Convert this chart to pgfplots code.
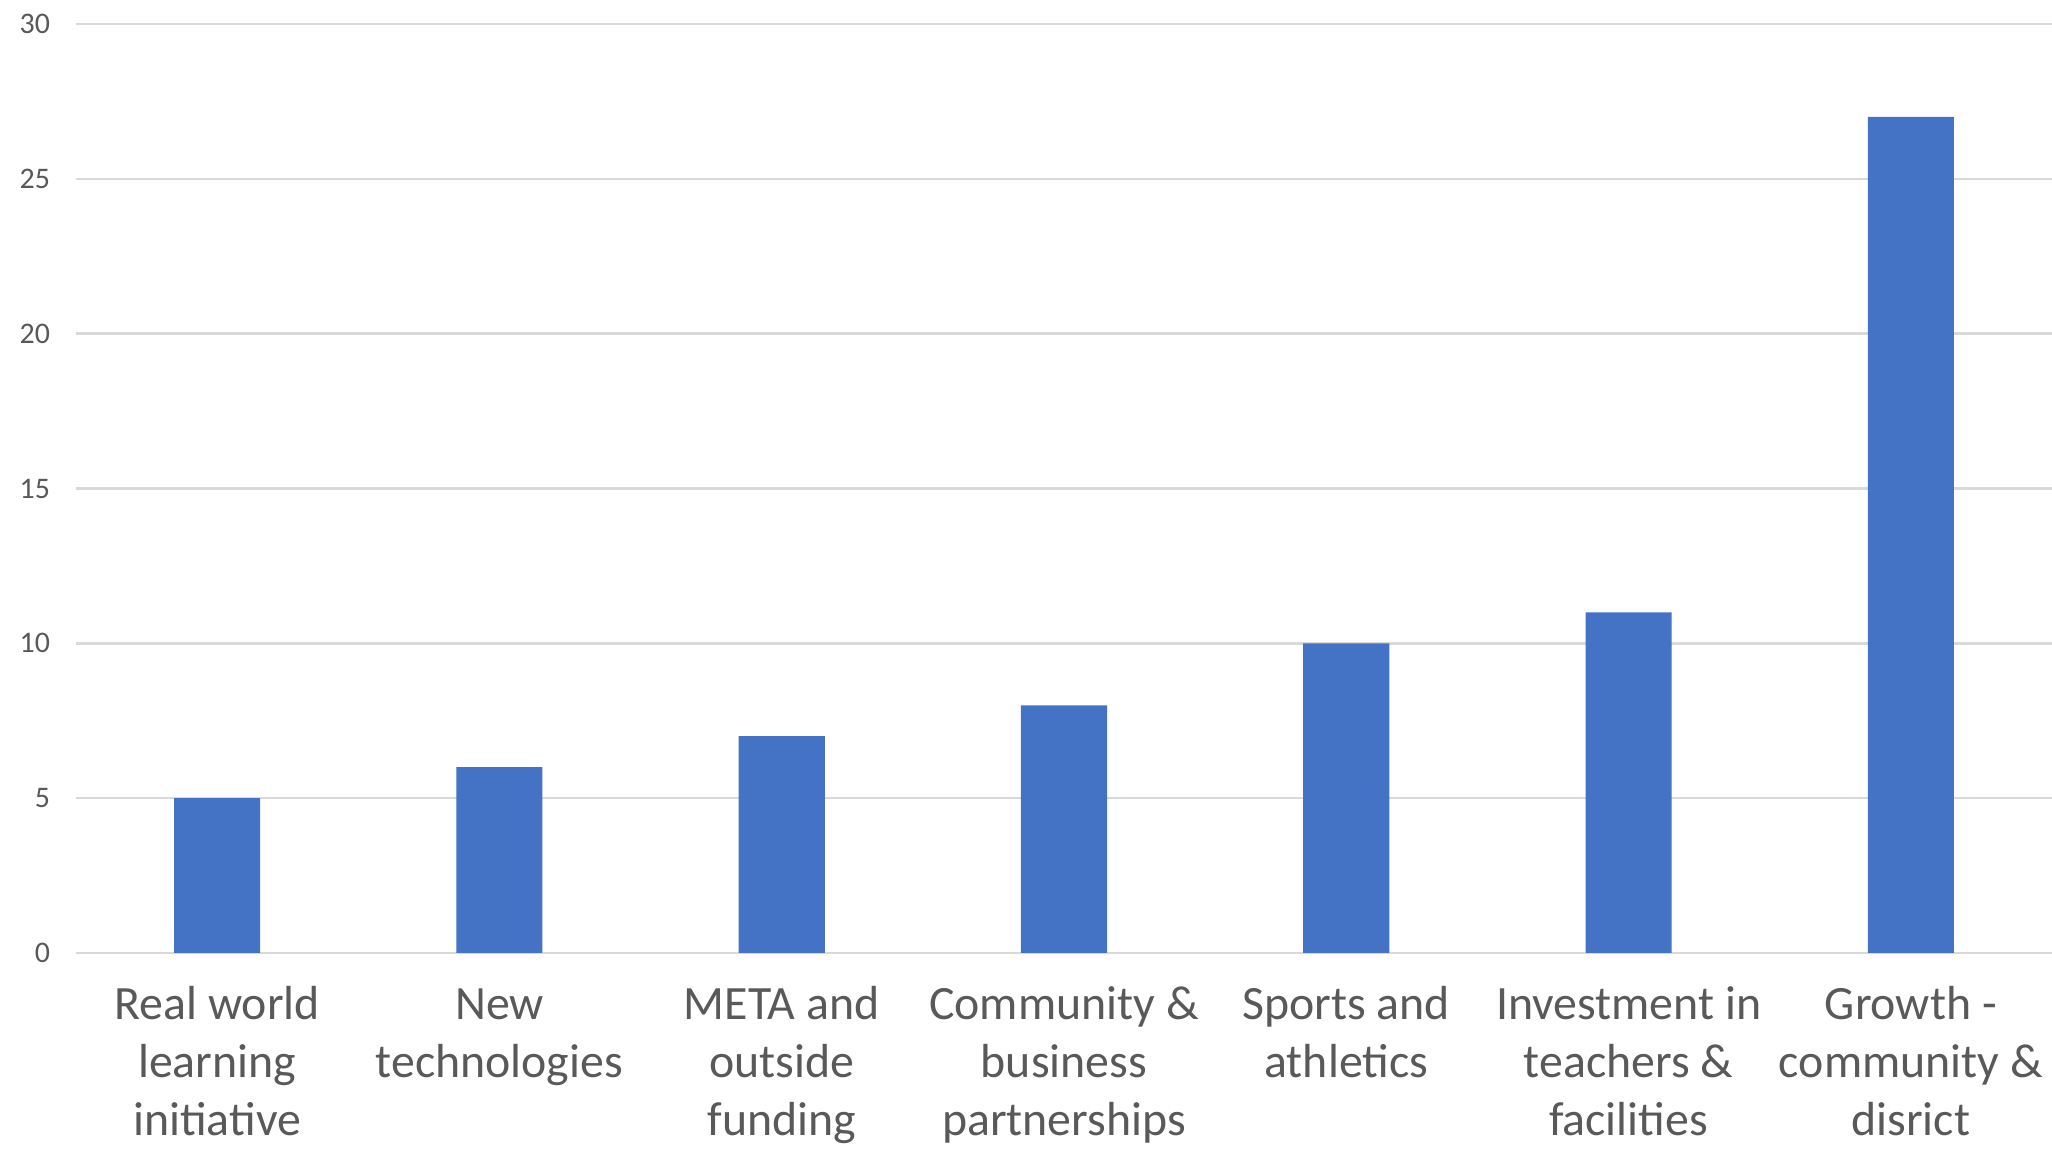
\documentclass[border=0pt]{standalone}
\usepackage{pgfplots}
\pgfplotsset{compat=1.18}
\usepackage{fontspec}
\setmainfont{Carlito}
\definecolor{barblue}{HTML}{4472C4}
\definecolor{gridgray}{HTML}{D9D9D9}
\definecolor{txtgray}{HTML}{595959}

\begin{document}
\begin{tikzpicture}
  \begin{axis}[
      scale only axis,
      width=494bp, height=232.25bp,
      ymin=0, ymax=30,
      xmin=-0.5, xmax=6.5,
      ytick={0,5,...,30},
      xtick=data,
      xticklabels={
        {\strut Real world\\learning\\initiative},
        {\strut New\\technologies},
        {\strut META and\\outside\\funding},
        {\strut Community \&\\business\\partnerships},
        {\strut Sports and\\athletics},
        {\strut Investment in\\teachers \&\\facilities},
        {\strut Growth -\\community \&\\disrict}},
      axis x line=bottom,
      axis y line=left,
      y axis line style={draw=none},
      x axis line style={gridgray, line width=0.6bp, -},
      ymajorgrids=true,
      grid style={gridgray, line width=0.6bp},
      major tick length=0pt,
      /pgf/number format/assume math mode=true,
      xticklabel style={align=center, text=txtgray,
        font=\fontsize{12}{14.5}\selectfont, yshift=-3bp},
      yticklabel style={text=txtgray, font=\fontsize{7.5}{9}\selectfont,
        anchor=east, xshift=-3bp},
      ybar,
      bar width=0.305,
    ]
    \addplot[fill=barblue, draw=none] coordinates {
      (0,5) (1,6) (2,7) (3,8) (4,10) (5,11) (6,27)
    };
  \end{axis}
  \pgfresetboundingbox
  \path[use as bounding box] ([xshift=-19bp,yshift=-50bp]current axis.south west)
    rectangle ([yshift=6bp]current axis.north east);
\end{tikzpicture}
\end{document}
